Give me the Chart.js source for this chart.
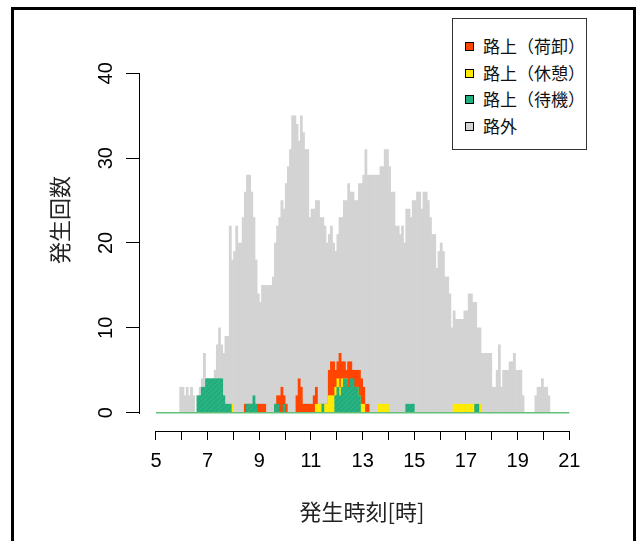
<!DOCTYPE html>
<html lang="ja">
<head>
<meta charset="UTF-8">
<title>発生時刻別の発生回数</title>
<script src="https://cdn.jsdelivr.net/npm/chart.js"></script>
<style>
  body { margin: 0; background: #fff; width: 640px; height: 541px; position: relative; overflow: hidden; }
  #frame { position: absolute; left: 11px; top: 7px; width: 619px; height: 600px;
           border: 3px solid #000; border-bottom: none; }
  #chart { position: absolute; left: 0; top: 0; }
  .jp { position: absolute; font-family: "Noto Sans CJK JP", sans-serif; color: #222; white-space: nowrap; }
  #ytitle { left: 58px; top: 220px; font-size: 22px; transform: translate(-50%, -50%) rotate(-90deg); }
  #xtitle { left: 362px; top: 510px; font-size: 22px; transform: translate(-50%, -50%); }
  #legend { position: absolute; left: 452px; top: 18px; width: 133px; height: 130px;
            border: 1.5px solid #333; background: #fff; }
  #legend .row { position: absolute; left: 12px; height: 20px; }
  #legend .sw { position: absolute; left: 0; top: 6px; width: 7px; height: 7px; border: 1px solid #000; }
  #legend .lab { position: absolute; left: 18px; top: -3px; font-size: 17px; font-family: "Noto Sans CJK JP", sans-serif; color: #111; white-space: nowrap; }
</style>
</head>
<body>
<div id="frame"></div>
<canvas id="chart" width="640" height="541"></canvas>
<div id="ytitle" class="jp">発生回数</div>
<div id="xtitle" class="jp">発生時刻[時]</div>
<div id="legend"></div>

<script>
  // 5分刻みの集計（最初のビンは 5:50 開始）
  const firstBinHour = 5 + 50 / 60;
  const binMinutes = 5;

  const hourTicks = [5, 6, 7, 8, 9, 10, 11, 12, 13, 14, 15, 16, 17, 18, 19, 20, 21];
  const countTicks = [0, 10, 20, 30, 40];

  // 路外
  const offStreet = [
    0, 3,                                   // 5:50-
    3, 2, 3, 2, 3, 2, 0, 2, 3, 4, 7, 4,     // 6時
    4, 4, 4, 5, 8, 10, 8, 7, 9, 9, 22, 18,  // 7時
    19, 22, 20, 20, 23, 26, 28, 28, 26, 23, 18, 14,
    13, 15, 15, 15, 15, 15, 16, 20, 22, 23, 25, 24,
    27, 29, 31, 35, 35, 34, 32, 35, 33, 31, 31, 23,
    24, 24, 25, 25, 23, 23, 22, 20, 21, 22, 20, 19,
    21, 23, 23, 25, 25, 27, 26, 26, 25, 25, 27, 27,
    28, 31, 28, 28, 28, 28, 28, 28, 29, 29, 31, 31,
    29, 26, 26, 22, 22, 21, 22, 20, 24, 24, 23, 25,
    25, 26, 26, 24, 26, 26, 25, 23, 21, 21, 17, 19,
    20, 19, 16, 16, 14, 10, 12, 11, 11, 11, 11, 12,
    12, 14, 14, 13, 13, 10, 10, 7, 7, 7, 7, 7,
    3, 3, 5, 8, 3, 5, 5, 5, 6, 6, 7, 5,
    5, 5, 2, 0, 0, 0, 0, 0, 2, 3, 3, 4,
    3, 3, 2, 0, 0, 0                        // 20時
  ];

  // 路上（荷卸）
  const unloading = [
    0, 0,
    0, 0, 0, 0, 0, 0, 0, 0, 0, 0, 0, 0,
    0, 0, 0, 0, 0, 0, 0, 0, 0, 0, 0, 0,
    0, 0, 0, 0, 0, 1, 1, 1, 1, 1, 1, 1,
    1, 1, 1, 0, 0, 0, 0, 1, 2, 2, 3, 2,
    1, 0, 0, 0, 0, 2, 4, 3, 1, 1, 1, 1,
    1, 2, 3, 1, 1, 1, 1, 1, 5, 6, 6, 5,
    6, 7, 6, 6, 5, 6, 6, 5, 5, 5, 5, 4,
    3, 1, 1, 0, 0, 0, 0, 0, 0, 0, 0, 0,
    0, 0, 0, 0, 0, 0, 0, 0, 0, 0, 0, 0,
    0, 0, 0, 0, 0, 0, 0, 0, 0, 0, 0, 0,
    0, 0, 0, 0, 0, 0, 0, 0, 0, 0, 0, 0,
    0, 0, 0, 0, 0, 0, 0, 0, 0, 0, 0, 0,
    0, 0, 0, 0, 0, 0, 0, 0, 0, 0, 0, 0,
    0, 0, 0, 0, 0, 0, 0, 0, 0, 0, 0, 0,
    0, 0, 0, 0, 0, 0
  ];

  // 路上（休憩）
  const resting = [
    0, 0,
    0, 0, 0, 0, 0, 0, 0, 0, 0, 0, 0, 0,
    0, 0, 0, 0, 0, 0, 0, 0, 0, 0, 0, 1,
    0, 0, 0, 0, 0, 0, 0, 0, 0, 0, 0, 0,
    0, 0, 0, 0, 0, 0, 0, 0, 0, 0, 0, 0,
    0, 0, 0, 0, 0, 0, 0, 0, 0, 0, 0, 0,
    0, 0, 1, 1, 1, 0, 1, 1, 2, 2, 2, 3,
    4, 3, 4, 4, 4, 3, 3, 3, 3, 3, 2, 1,
    1, 0, 0, 0, 0, 0, 0, 1, 1, 1, 1, 1,
    0, 0, 0, 0, 0, 0, 0, 0, 0, 0, 0, 0,
    0, 0, 0, 0, 0, 0, 0, 0, 0, 0, 0, 0,
    0, 0, 0, 0, 0, 0, 1, 1, 1, 1, 1, 1,
    1, 1, 1, 1, 1, 1, 1, 0, 0, 0, 0, 0,
    0, 0, 0, 0, 0, 0, 0, 0, 0, 0, 0, 0,
    0, 0, 0, 0, 0, 0, 0, 0, 0, 0, 0, 0,
    0, 0, 0, 0, 0, 0
  ];

  // 路上（待機）
  const waiting = [
    0, 0,
    0, 0, 0, 0, 0, 0, 0, 2, 2, 3, 3, 4,
    4, 4, 4, 4, 4, 4, 4, 2, 1, 1, 1, 0,
    0, 0, 0, 0, 0, 0, 1, 1, 1, 2, 1, 0,
    0, 0, 0, 0, 0, 0, 0, 1, 1, 0, 0, 1,
    0, 0, 0, 0, 0, 0, 0, 0, 0, 0, 0, 0,
    0, 0, 0, 0, 0, 1, 0, 0, 0, 0, 0, 2,
    3, 2, 3, 4, 4, 3, 4, 4, 3, 3, 2, 0,
    0, 0, 0, 0, 0, 0, 0, 0, 0, 0, 0, 0,
    0, 0, 0, 0, 0, 0, 0, 0, 1, 1, 1, 1,
    0, 0, 0, 0, 0, 0, 0, 0, 0, 0, 0, 0,
    0, 0, 0, 0, 0, 0, 0, 0, 0, 0, 0, 0,
    0, 0, 0, 0, 1, 1, 0, 0, 0, 0, 0, 0,
    0, 0, 0, 0, 0, 0, 0, 0, 0, 0, 0, 0,
    0, 0, 0, 0, 0, 0, 0, 0, 0, 0, 0, 0,
    0, 0, 0, 0, 0, 0
  ];

  const seriesNames = ['路上（荷卸）', '路上（休憩）', '路上（待機）', '路外'];

  const ORANGE = '#FF4500';
  const YELLOW = '#FFEA00';
  const GREEN = '#22AD7C';
  const GRAY = '#D3D3D3';
  const BASE_GREEN = '#63C07A';

  // 待機の斜線模様（うっすら）
  function hatch(base, stripe) {
    const c = document.createElement('canvas');
    c.width = 5; c.height = 5;
    const g = c.getContext('2d');
    g.fillStyle = base;
    g.fillRect(0, 0, 5, 5);
    g.strokeStyle = stripe;
    g.lineWidth = 0.7;
    g.beginPath();
    g.moveTo(0, 5); g.lineTo(5, 0);
    g.stroke();
    return g.createPattern(c, 'repeat');
  }

  // ビン中央の時刻に置く（0 は描かない）
  function toPoints(values) {
    const pts = [];
    values.forEach((v, i) => {
      if (v > 0) pts.push({ x: firstBinHour + (i + 0.5) * binMinutes / 60, y: v });
    });
    return pts;
  }

  // R風の軸線と縦書き目盛ラベル
  const rAxes = {
    id: 'rAxes',
    afterDraw(chart) {
      const { ctx, chartArea, scales: { x, y } } = chart;
      ctx.save();
      ctx.strokeStyle = '#000';
      ctx.lineWidth = 1;
      ctx.beginPath();
      ctx.moveTo(Math.round(x.getPixelForValue(hourTicks[0])), chartArea.bottom + 0.5);
      ctx.lineTo(Math.round(x.getPixelForValue(hourTicks[hourTicks.length - 1])) + 1, chartArea.bottom + 0.5);
      ctx.moveTo(chartArea.left + 0.5, Math.round(y.getPixelForValue(countTicks[0])) + 1);
      ctx.lineTo(chartArea.left + 0.5, Math.round(y.getPixelForValue(countTicks[countTicks.length - 1])));
      ctx.stroke();

      ctx.fillStyle = '#000';
      ctx.font = '20px "Liberation Sans", Arial, sans-serif';
      ctx.textAlign = 'center';
      ctx.textBaseline = 'middle';
      countTicks.forEach(v => {
        ctx.save();
        ctx.translate(106, y.getPixelForValue(v));
        ctx.rotate(-Math.PI / 2);
        ctx.fillText(String(v), 0, 0);
        ctx.restore();
      });
      ctx.restore();
    }
  };

  const ctx = document.getElementById('chart').getContext('2d');
  new Chart(ctx, {
    type: 'bar',
    data: {
      datasets: [
        { label: seriesNames[3], data: toPoints(offStreet), backgroundColor: GRAY, order: 4 },
        { label: seriesNames[0], data: toPoints(unloading), backgroundColor: ORANGE, order: 3 },
        { label: seriesNames[1], data: toPoints(resting), backgroundColor: YELLOW, order: 2 },
        { label: seriesNames[2], data: toPoints(waiting), backgroundColor: hatch(GREEN, '#3CBB8E'), order: 1 },
        {
          type: 'line', label: 'base',
          data: [{ x: hourTicks[0], y: 0 }, { x: hourTicks[hourTicks.length - 1], y: 0 }],
          borderColor: BASE_GREEN, borderWidth: 1.5, pointRadius: 0, order: 0
        }
      ]
    },
    options: {
      responsive: false,
      animation: false,
      devicePixelRatio: 1,
      layout: { padding: { top: 60, right: 53, bottom: 0, left: 0 } },
      datasets: {
        bar: { grouped: false, barPercentage: 1, categoryPercentage: 1, borderWidth: 0 }
      },
      plugins: { legend: { display: false }, tooltip: { enabled: false } },
      scales: {
        x: {
          type: 'linear',
          offset: false,
          min: 4.342,
          max: 21.685,
          afterBuildTicks: s => { s.ticks = hourTicks.map(v => ({ value: v })); },
          afterFit: s => { s.height = 110; },
          border: { display: false },
          grid: { offset: false, drawOnChartArea: false, drawTicks: true, tickLength: 9, color: '#000', lineWidth: 1 },
          ticks: {
            autoSkip: false, maxRotation: 0, padding: 9, color: '#000',
            font: { family: '"Liberation Sans", Arial, sans-serif', size: 20 },
            callback: v => (v % 2 === 1 ? String(v) : '')
          }
        },
        y: {
          min: -2.157,
          max: 41.567,
          afterBuildTicks: s => { s.ticks = countTicks.map(v => ({ value: v })); },
          afterFit: s => { s.width = 139; },
          border: { display: false },
          grid: { drawOnChartArea: false, drawTicks: true, tickLength: 13, color: '#000', lineWidth: 1 },
          ticks: { display: false }
        }
      }
    },
    plugins: [rAxes]
  });

  // 凡例
  const legendColors = [ORANGE, YELLOW, GREEN, GRAY];
  const legend = document.getElementById('legend');
  seriesNames.forEach((name, i) => {
    const row = document.createElement('div');
    row.className = 'row';
    row.style.top = (17 + i * 26.6) + 'px';
    row.innerHTML = '<span class="sw" style="background:' + legendColors[i] + '"></span>' +
                    '<span class="lab">' + name + '</span>';
    legend.appendChild(row);
  });
</script>
</body>
</html>
